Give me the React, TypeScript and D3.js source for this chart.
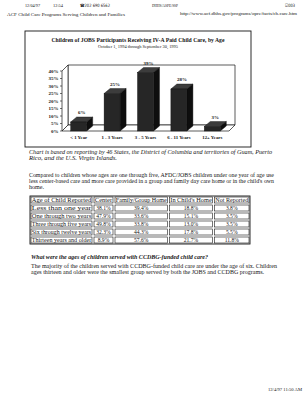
import React from "react";
import * as d3 from "d3";

// ---------- data ----------
const categories = ["< 1 Year", "1 - 3 Years", "3 - 5 Years", "6 - 11 Years", "12+ Years"];
const shares = [6, 25, 39, 28, 3];
const yTicks = [0, 5, 10, 15, 20, 25, 30, 35, 40];

const tableHeader = ["Age of Child Reported", "Center", "Family/Group Home", "In Child's Home", "Not Reported"];
const ageGroups = [
  "Less than one year",
  "One through two years",
  "Three through five years",
  "Six through twelve years",
  "Thirteen years and older",
];
const centerPct = ["38.1%", "47.9%", "49.8%", "32.3%", "8.9%"];
const familyPct = ["39.4%", "33.6%", "33.8%", "44.3%", "57.6%"];
const childHomePct = ["18.8%", "15.1%", "13.0%", "17.8%", "21.7%"];
const notReportedPct = ["3.8%", "3.5%", "3.5%", "5.5%", "11.8%"];

// ---------- layout ----------
const W = 308;
const H = 400;
const SERIF = "'Liberation Serif', 'DejaVu Serif', serif";
const INK = "#151515";

const x = d3
  .scaleBand<string>()
  .domain(categories)
  .range([62, 229])
  .paddingInner(0.52)
  .paddingOuter(0.26);
const y = d3.scaleLinear().domain([0, 40]).range([131, 71]);
const DX = 6;
const DY = -6;
const BDX = 6;
const BDY = -5;

type LineProps = {
  x: number;
  y: number;
  w?: number;
  size?: number;
  weight?: string | number;
  italic?: boolean;
  anchor?: "start" | "middle" | "end";
  children: React.ReactNode;
};
const Line = ({ x, y, w, size = 6, weight = "normal", italic = false, anchor = "start", children }: LineProps) => (
  <text
    x={x}
    y={y}
    fontSize={size}
    fontFamily={SERIF}
    fontWeight={weight}
    fontStyle={italic ? "italic" : "normal"}
    textAnchor={anchor}
    fill={INK}
    textLength={w}
    lengthAdjust={w ? "spacingAndGlyphs" : undefined}
  >
    {children}
  </text>
);

const colEdges = [30, 93, 114, 168.5, 213.5, 250];
const tableTop = 196;
const rowH = 8;

export default function App() {
  const x0 = x.range()[0];
  const x1 = x.range()[1];
  const yb = y(0);
  const yt = y(40);

  const tableCols = [ageGroups, centerPct, familyPct, childHomePct, notReportedPct];

  return (
    <svg
      width={W}
      height={H}
      style={{ position: "absolute", left: 0, top: 0, background: "#fff" }}
    >
      <rect x={0} y={0} width={W} height={H} fill="#fff" />

      {/* fax header */}
      <Line x={25} y={7} size={4.5} w={15}>12/04/97</Line>
      <Line x={53} y={7} size={4.5} w={10}>12:54</Line>
      <text x={80} y={7} fontSize={4.5} fontFamily="'DejaVu Sans', sans-serif" fill={INK} textLength={30} lengthAdjust="spacingAndGlyphs">☎202 690 6562</text>
      <Line x={152} y={7} size={4.5} w={26}>DHHS/ASPE/SSP</Line>
      <text x={285} y={7} fontSize={4.5} fontFamily="'DejaVu Sans', sans-serif" fill={INK} textLength={10} lengthAdjust="spacingAndGlyphs">☑003</text>
      <Line x={7} y={16} size={4.5} w={118}>ACF Child Care Programs Serving Children and Families</Line>
      <Line x={180} y={14.5} size={4} w={117}>http://www.acf.dhhs.gov/programs/opre/facts/ch.care.htm</Line>

      {/* chart frame */}
      <rect x={25} y={31} width={226} height={116} fill="none" stroke={INK} strokeWidth={0.9} />
      <Line x={138} y={42} size={6} weight="bold" anchor="middle" w={173}>
        Children of JOBS Participants Receiving IV-A Paid Child Care, by Age
      </Line>
      <Line x={138} y={47.5} size={4} anchor="middle" w={80}>
        October 1, 1994 through September 30, 1995
      </Line>

      {/* 3D walls */}
      <polygon
        points={`${x0 + DX},${yt + DY} ${x1 + DX},${yt + DY} ${x1 + DX},${yb + DY} ${x0 + DX},${yb + DY}`}
        fill="#fff"
        stroke={INK}
        strokeWidth={0.7}
      />
      <polygon
        points={`${x0},${yb} ${x1},${yb} ${x1 + DX},${yb + DY} ${x0 + DX},${yb + DY}`}
        fill="#fff"
        stroke={INK}
        strokeWidth={0.7}
      />
      <polygon
        points={`${x0},${yt} ${x0 + DX},${yt + DY} ${x0 + DX},${yb + DY} ${x0},${yb}`}
        fill="#fff"
        stroke={INK}
        strokeWidth={0.7}
      />

      {/* y axis ticks */}
      {yTicks.map((t) => (
        <g key={t}>
          <line x1={x0 - 2} x2={x0} y1={y(t)} y2={y(t)} stroke={INK} strokeWidth={0.6} />
          <Line x={58.5} y={y(t) + 1.8} size={5} weight="bold" anchor="end">
            {`${t}%`}
          </Line>
        </g>
      ))}

      {/* bars */}
      {categories.map((c, i) => {
        const bx = x(c)!;
        const bw = x.bandwidth();
        const top = y(shares[i]);
        return (
          <g key={c}>
            <polygon
              points={`${bx},${top} ${bx + BDX},${top + BDY} ${bx + bw + BDX},${top + BDY} ${bx + bw},${top}`}
              fill="#3c3c3c"
              stroke="#111"
              strokeWidth={0.4}
            />
            <polygon
              points={`${bx + bw},${top} ${bx + bw + BDX},${top + BDY} ${bx + bw + BDX},${yb + BDY} ${bx + bw},${yb}`}
              fill="#0e0e0e"
              stroke="#111"
              strokeWidth={0.4}
            />
            <rect x={bx} y={top} width={bw} height={yb - top} fill="#262626" stroke="#111" strokeWidth={0.4} />
            <Line x={bx + bw / 2 + BDX / 2} y={top - 8} size={5} weight="bold" anchor="middle">
              {`${shares[i]}%`}
            </Line>
            <Line x={bx + bw / 2} y={138.5} size={4.8} weight="bold" anchor="middle">
              {c}
            </Line>
          </g>
        );
      })}

      {/* note */}
      <Line x={29} y={154} size={6} italic w={243}>
        Chart is based on reporting by 46 States, the District of Columbia and territories of Guam, Puerto
      </Line>
      <Line x={29} y={160} size={6} italic w={88}>
        Rico, and the U.S. Virgin Islands.
      </Line>

      <Line x={29} y={176.5} size={6} w={245}>
        Compared to children whose ages are one through five, AFDC/JOBS children under one year of age use
      </Line>
      <Line x={29} y={182.5} size={6} w={245}>
        less center-based care and more care provided in a group and family day care home or in the child's own
      </Line>
      <Line x={29} y={188.5} size={6} w={15}>
        home.
      </Line>

      {/* table */}
      <rect
        x={colEdges[0]}
        y={tableTop}
        width={colEdges[5] - colEdges[0]}
        height={rowH * 6}
        fill="none"
        stroke={INK}
        strokeWidth={0.9}
      />
      {[tableHeader, ...ageGroups.map((_, r) => tableCols.map((col) => col[r]))].map((row, r) =>
        row.map((cell, c) => {
          const cx0 = colEdges[c];
          const cx1 = colEdges[c + 1];
          const cy = tableTop + r * rowH;
          const isHeader = r === 0;
          const left = c === 0;
          return (
            <g key={`${r}-${c}`}>
              <rect
                x={cx0 + 1}
                y={cy + 1}
                width={cx1 - cx0 - 2}
                height={rowH - 2}
                fill="none"
                stroke={INK}
                strokeWidth={0.6}
              />
              <Line
                x={left || isHeader ? cx0 + 1.8 : (cx0 + cx1) / 2}
                y={cy + 6}
                size={5.6}
                anchor={left || isHeader ? "start" : "middle"}
                w={isHeader || left ? cx1 - cx0 - 3.6 : undefined}
              >
                {cell}
              </Line>
            </g>
          );
        })
      )}

      <Line x={31} y={258.5} size={6} weight="bold" italic w={177}>
        What were the ages of children served with CCDBG-funded child care?
      </Line>
      <Line x={31} y={267.5} size={6} w={246}>
        The majority of the children served with CCDBG-funded child care are under the age of six. Children
      </Line>
      <Line x={31} y={273.5} size={6} w={233}>
        ages thirteen and older were the smallest group served by both the JOBS and CCDBG programs.
      </Line>

      <Line x={268} y={391} size={4.2} w={34}>
        12/4/97 11:50 AM
      </Line>
    </svg>
  );
}
